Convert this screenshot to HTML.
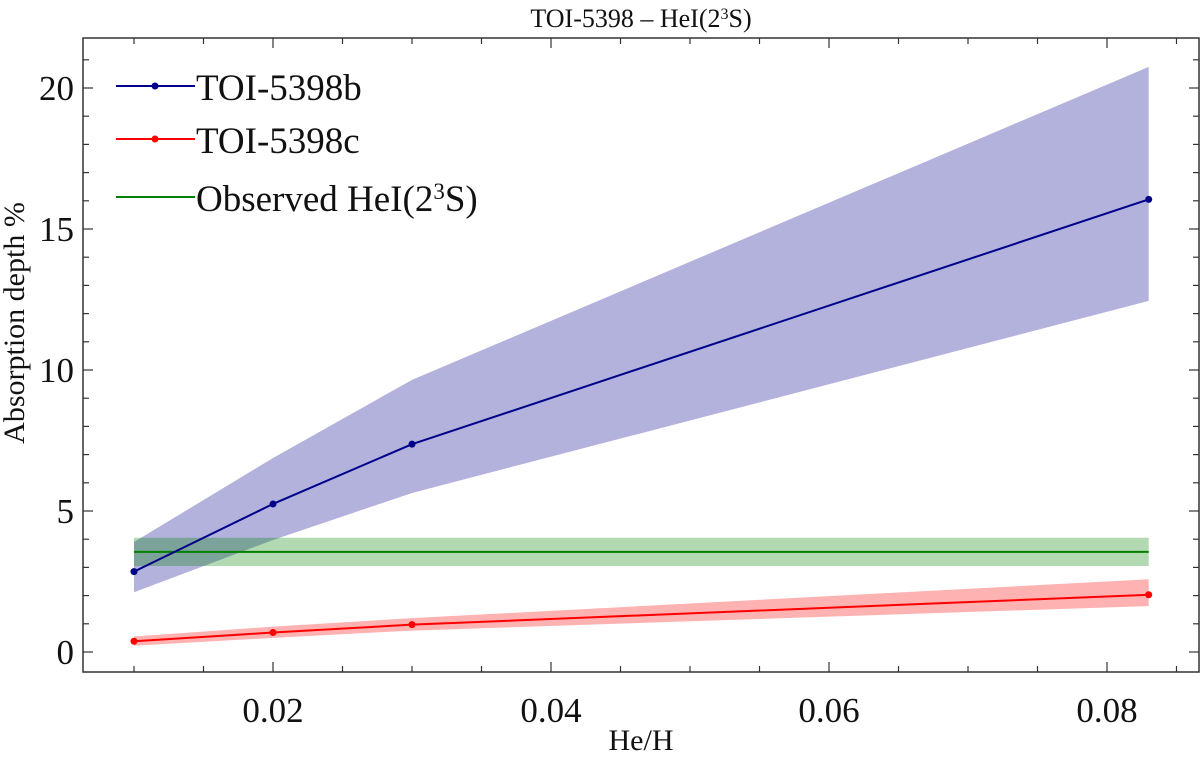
<!DOCTYPE html>
<html><head><meta charset="utf-8"><style>
body{margin:0;background:#fff;position:relative}
svg text{font-family:"Liberation Serif",serif;fill:#111}
</style></head><body>
<svg id="c" width="1200" height="756" xmlns="http://www.w3.org/2000/svg"></svg>
<script>
const xsB=[0.01,0.02,0.03,0.083];
const valB=[2.85,5.25,7.37,16.05];
const lowB=[2.12,3.97,5.64,12.45];
const highB=[3.9,6.88,9.65,20.75];
const xsC=[0.01,0.02,0.03,0.083];
const valC=[0.38,0.69,0.97,2.03];
const lowC=[0.22,0.5,0.76,1.63];
const highC=[0.55,0.9,1.2,2.58];
const obsX=[0.01,0.083];
const obsVal=3.55, obsLow=3.05, obsHigh=4.05;
const xTicks=[0.02,0.04,0.06,0.08];
const xTickLabels=["0.02","0.04","0.06","0.08"];
const yTicks=[0,5,10,15,20];
const yTickLabels=["0","5","10","15","20"];

const L=83,R=1199,T=38,B=672;
const X=v=>134+(v-0.01)*13900;
const Y=v=>652-v*28.2;
const svg=document.getElementById('c');
const NS='http://www.w3.org/2000/svg';
function mk(tag,attrs,parent){const e=document.createElementNS(NS,tag);for(const k in attrs)e.setAttribute(k,attrs[k]);(parent||svg).appendChild(e);return e;}
function band(xs,lo,hi,fill,op,name){
  let d='M'+xs.map((x,i)=>X(x)+','+Y(hi[i])).join('L')+'L'+xs.slice().reverse().map((x,i)=>X(x)+','+Y(lo[xs.length-1-i])).join('L')+'Z';
  const p=mk('path',{d:d,fill:fill,'fill-opacity':op});
  
  
}
band(xsB,lowB,highB,'#00008b',0.3,'band-toi-5398b');
band(obsX,[obsLow,obsLow],[obsHigh,obsHigh],'#008000',0.3,'band-observed');
band(xsC,lowC,highC,'#ff0000',0.3,'band-toi-5398c');
function line(xs,vs,col,name,dots){
  const p=mk('polyline',{points:xs.map((x,i)=>X(x)+','+Y(vs[i])).join(' '),fill:'none',stroke:col,'stroke-width':2});
  
  
  if(dots)xs.forEach((x,i)=>{const c=mk('circle',{cx:X(x),cy:Y(vs[i]),r:3.5,fill:col});
    
    });
}
line(obsX,[obsVal,obsVal],'#008000','line-observed',false);
line(xsB,valB,'#00008b','line-toi-5398b',true);
line(xsC,valC,'#ff0000','line-toi-5398c',true);

const f=mk('rect',{x:L,y:T,width:R-L,height:B-T,fill:'none',stroke:'#333','stroke-width':1.5});


for(let v=0.01;v<=0.0851;v+=0.005){const x=X(v);const maj=xTicks.some(t=>Math.abs(t-v)<1e-6);const len=maj?10:6;
  mk('line',{x1:x,x2:x,y1:B,y2:B-len,stroke:'#333','stroke-width':1.2});mk('line',{x1:x,x2:x,y1:T,y2:T+len,stroke:'#333','stroke-width':1.2});}
xTicks.forEach((v,i)=>{const t=mk('text',{x:X(v),y:B+50,'font-size':35,'text-anchor':'middle'});t.textContent=xTickLabels[i];
  
  });
for(let v=-1;v<=21;v++){const y=Y(v);if(y<T||y>B)continue;const len=v%5===0?10:6;
  mk('line',{x1:L,x2:L+len,y1:y,y2:y,stroke:'#333','stroke-width':1.2});mk('line',{x1:R,x2:R-len,y1:y,y2:y,stroke:'#333','stroke-width':1.2});}
yTicks.forEach((v,i)=>{const t=mk('text',{x:74,y:Y(v)+12,'font-size':35,'text-anchor':'end'});t.textContent=yTickLabels[i];
  
  });
</script>
<svg width="1200" height="756" style="position:absolute;left:0;top:0" xmlns="http://www.w3.org/2000/svg">
<text x="641" y="27" font-size="26" text-anchor="middle">TOI-5398 – HeI(2<tspan baseline-shift="super" font-size="16">3</tspan>S)</text>
<text x="641" y="750" font-size="30" text-anchor="middle">He/H</text>
<text transform="translate(24,323) rotate(-90)" font-size="30" text-anchor="middle">Absorption depth %</text>
<g>
<g><line x1="116" y1="86" x2="195" y2="86" stroke="#00008b" stroke-width="2"/><circle cx="155" cy="86" r="3.5" fill="#00008b"/><text x="196" y="100" font-size="37">TOI-5398b</text></g>
<g><line x1="116" y1="139" x2="195" y2="139" stroke="#ff0000" stroke-width="2"/><circle cx="155" cy="139" r="3.5" fill="#ff0000"/><text x="196" y="153" font-size="37">TOI-5398c</text></g>
<g><line x1="116" y1="197" x2="195" y2="197" stroke="#008000" stroke-width="2"/><text x="196" y="211" font-size="37">Observed HeI(2<tspan baseline-shift="super" font-size="23">3</tspan>S)</text></g>
</g>
</svg>
</body></html>
